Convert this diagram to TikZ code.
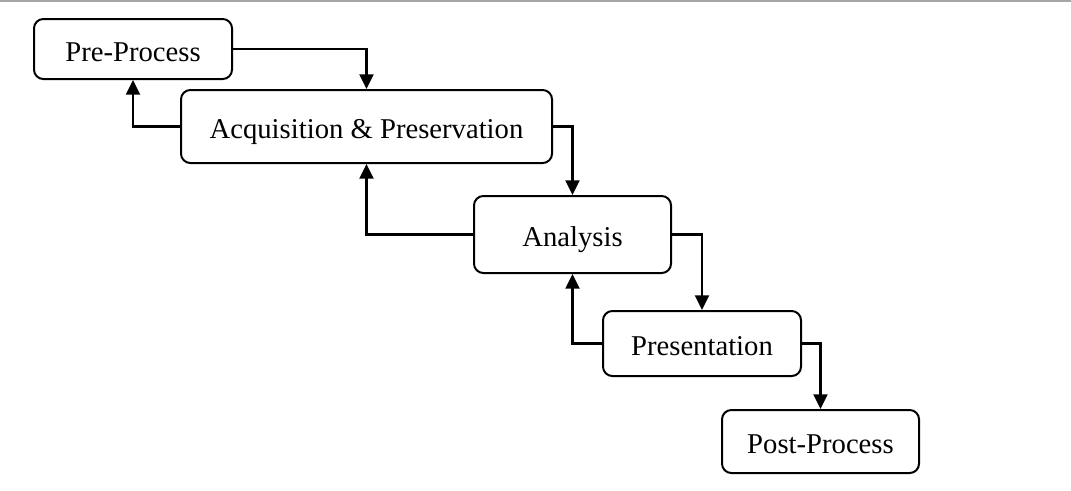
\documentclass[tikz,border=0pt]{standalone}
\usepackage{fontspec}
\setmainfont{Liberation Serif}
\usetikzlibrary{arrows.meta}
\begin{document}
\begin{tikzpicture}[x=0.75pt,y=-0.75pt,
  stage/.style={draw=black,line width=1.5pt,rounded corners=7pt,fill=white,
    font=\fontsize{21.5pt}{25pt}\selectfont,inner sep=0pt,text height=18pt,text depth=0pt},
  flow/.style={draw=black,line width=1.6pt,-{Triangle[length=11pt,width=10.5pt]}}]
\useasboundingbox (0,0) rectangle (1071,490);
\draw[color=black!35,line width=1.5pt] (0,1) -- (1071,1);
\node[stage,minimum width=148.5pt,minimum height=45pt] (pre) at (133,49) {Pre-Process};
\node[stage,minimum width=278.25pt,minimum height=54.75pt] (acq) at (366.5,126.5) {Acquisition \& Preservation};
\node[stage,minimum width=147.75pt,minimum height=57.75pt] (ana) at (572.5,234.5) {Analysis};
\node[stage,minimum width=148.5pt,minimum height=48.75pt] (pres) at (702,343.5) {Presentation};
\node[stage,minimum width=147.75pt,minimum height=47.25pt] (post) at (820.5,441.5) {Post-Process};
\draw[flow] (pre.east) -| (acq.north);
\draw[flow] (acq.west) -| (pre.south);
\draw[flow] (acq.east) -| (ana.north);
\draw[flow] (ana.west) -| (acq.south);
\draw[flow] (ana.east) -| (pres.north);
\draw[flow] (pres.west) -| (ana.south);
\draw[flow] (pres.east) -| (post.north);
\end{tikzpicture}
\end{document}
